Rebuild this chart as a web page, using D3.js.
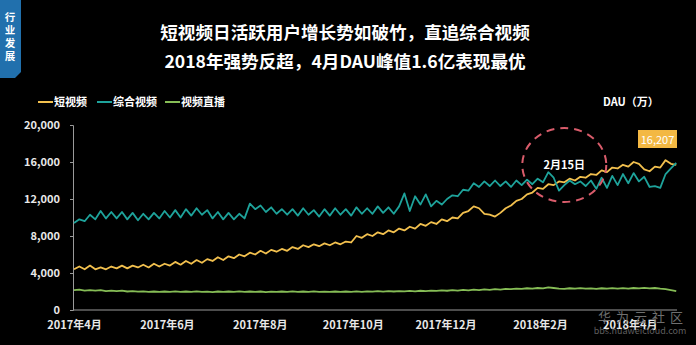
<!DOCTYPE html>
<html>
<head>
  <meta charset="utf-8"/>
  <title>DAU</title>
  <style>
    body { margin: 0; background: #000; }
    text { font-family: "Noto Sans CJK SC", "DejaVu Sans", sans-serif; font-weight: bold; }
  </style>
  <script src="https://d3js.org/d3.v7.min.js"></script>
</head>
<body>
<div id="chart"></div>
<script>
// half-week samples starting 2017-04-01 (weekday trough / weekend peak)
var startDate = new Date(2017, 3, 1)
var stepDays = 3.5

var shortVideo = [4400,4700,4400,4800,4400,4600,4400,4700,4500,4800,
  4500,4800,4600,4900,4600,5000,4700,5000,4800,5200,
  4900,5300,5000,5400,5100,5500,5300,5700,5400,5800,
  5600,6000,5800,6200,6000,6400,6100,6500,6300,6600,
  6400,6800,6600,7000,6800,7100,6900,7200,7000,7300,
  7100,7400,7300,8000,7800,8200,8000,8400,8200,8600,
  8400,8800,8600,9000,8800,9300,9100,9500,9300,9800,
  9600,10000,9900,10500,10700,11200,11000,10400,10300,10100,
  10500,11000,11300,11800,12000,12500,12700,13200,13100,13600,
  13500,13900,13800,14200,14000,14400,14300,14700,14600,15100,
  14900,15400,15300,15700,15500,16000,15800,15200,15000,15500,
  15400,16200,15800,15700]

var generalVideo = [9400,9800,9600,10300,9800,10700,9900,10600,9900,10600,
  9800,10500,9700,10400,9800,10500,9900,10700,10000,10800,
  10000,10900,10200,11000,10300,10800,9900,10600,9800,10500,
  9800,10400,9900,11500,10900,11300,10600,11100,10400,10900,
  10300,10900,10200,11000,10300,10800,10100,10900,10200,11000,
  10300,10900,10200,11100,10400,11000,10400,11200,10500,11100,
  10400,11200,12600,10700,12300,11400,12500,11200,11800,11400,
  12000,12400,12300,13000,12900,13700,13300,13900,13400,14000,
  13400,13900,13300,14000,13500,14100,13600,14200,13800,14900,
  14300,12900,13500,14000,13600,13900,13400,14000,13100,14300,
  13200,14500,13500,14700,13700,14800,13900,14400,13300,13400,
  13200,14700,15300,15900]

var liveVideo = [2150,2200,2100,2150,2100,2150,2050,2100,2050,2100,
  2000,2050,1980,2020,1960,2000,1950,2000,1960,2010,
  1950,2000,1960,2010,1950,1990,1940,2000,1950,2000,
  1950,2010,1960,2000,1950,2000,1940,1990,1950,2000,
  1960,2010,1950,2000,1960,2010,1950,1990,1960,2000,
  1950,2000,1960,2010,1970,2020,1980,2030,1990,2040,
  2000,2050,2010,2060,2020,2080,2040,2100,2060,2120,
  2080,2150,2100,2180,2120,2200,2150,2230,2180,2260,
  2200,2280,2250,2320,2280,2350,2300,2380,2330,2450,
  2380,2300,2280,2350,2300,2360,2300,2340,2290,2350,
  2300,2360,2310,2370,2320,2380,2330,2400,2340,2380,
  2300,2250,2150,2050]

var seriesNames = ["短视频", "综合视频", "视频直播"]
var seriesColors = ["#f2c04e", "#1ea39b", "#86bd56"]
var yTicks = [0, 4000, 8000, 12000, 16000, 20000]
var xTickDates = [new Date(2017,3,1), new Date(2017,5,1), new Date(2017,7,1), new Date(2017,9,1),
  new Date(2017,11,1), new Date(2018,1,1), new Date(2018,3,1)]
var peakLabel = "16,207"
var noteLabel = "2月15日"
var noteDate = new Date(2018, 1, 15)

var width = 696, height = 345

var svg = d3.select("#chart").append("svg")
  .attr("width", width).attr("height", height)
  .style("background", "#000")

var dayMs = 86400000
function dateAt(i) { return new Date(startDate.getTime() + i * stepDays * dayMs) }

var x = d3.scaleTime()
  .domain([startDate, new Date(startDate.getTime() + 396 * dayMs)])
  .range([74, 677])
var y = d3.scaleLinear().domain([0, 20000]).range([310, 125])

// corner tag
svg.append("path")
  .attr("d", "M0,0 L21,0 L21,72 L15,78 L0,78 Z")
  .attr("fill", "#2170ad")
var tag = "行业发展".split("")
svg.selectAll(".tag").data(tag).enter().append("text")
  .attr("x", 10).attr("y", function(d, i) { return 21 + i * 13 })
  .attr("text-anchor", "middle").attr("fill", "#fff")
  .style("font-size", "10.5px").text(function(d) { return d })

// title
svg.append("text").attr("x", 345).attr("y", 39).attr("text-anchor", "middle")
  .attr("fill", "#fff").style("font-size", "17.6px")
  .text("短视频日活跃用户增长势如破竹，直追综合视频")
svg.append("text").attr("x", 345).attr("y", 68).attr("text-anchor", "middle")
  .attr("fill", "#fff").style("font-size", "17.6px")
  .text("2018年强势反超，4月DAU峰值1.6亿表现最优")

// legend
var legendX = [38, 97, 165]
var lg = svg.selectAll(".lg").data(seriesNames).enter().append("g")
  .attr("transform", function(d, i) { return "translate(" + legendX[i] + ",102)" })
lg.append("line").attr("x1", 0).attr("x2", 15).attr("y1", 0).attr("y2", 0)
  .attr("stroke", function(d, i) { return seriesColors[i] }).attr("stroke-width", 2)
lg.append("text").attr("x", 16).attr("y", 4).attr("fill", "#fff")
  .style("font-size", "11px").text(function(d) { return d })

svg.append("text").attr("x", 603).attr("y", 106).attr("fill", "#fff")
  .style("font-size", "11px").text("DAU（万）")

// y axis
var yAxis = svg.append("g").attr("transform", "translate(73,0)")
  .call(d3.axisLeft(y).tickValues(yTicks).tickFormat(d3.format(",")).tickSize(3).tickPadding(10))
yAxis.select(".domain").attr("stroke", "#9a9a9a")
yAxis.selectAll(".tick line").attr("stroke", "#9a9a9a")
yAxis.selectAll("text").attr("fill", "#e8e8e8").style("font-size", "11px")

// x axis
var xAxis = svg.append("g").attr("transform", "translate(0,310)")
  .call(d3.axisBottom(x).tickValues(xTickDates).tickSize(0).tickPadding(11)
    .tickFormat(function(d) { return d.getFullYear() + "年" + (d.getMonth() + 1) + "月" }))
xAxis.select(".domain").attr("stroke", "#9a9a9a").attr("d", "M73,0H677")
xAxis.selectAll("text").attr("fill", "#e8e8e8").style("font-size", "11px")

// lines
var line = d3.line()
  .x(function(d, i) { return x(dateAt(i)) })
  .y(function(d) { return y(d) })
var allSeries = [liveVideo, shortVideo, generalVideo]
var allColors = [seriesColors[2], seriesColors[0], seriesColors[1]]
svg.selectAll(".series").data(allSeries).enter().append("path")
  .attr("d", line).attr("fill", "none")
  .attr("stroke", function(d, i) { return allColors[i] })
  .attr("stroke-width", 1.8).attr("stroke-linejoin", "round")

// annotation circle
var cx = x(noteDate) + 3
svg.append("ellipse").attr("cx", cx).attr("cy", 165).attr("rx", 42).attr("ry", 37)
  .attr("fill", "none").attr("stroke", "#d95c6b").attr("stroke-width", 2)
  .attr("stroke-dasharray", "8,6")
svg.append("text").attr("x", cx).attr("y", 169).attr("text-anchor", "middle")
  .attr("fill", "#fff").style("font-size", "11px").text(noteLabel)

// peak label
svg.append("rect").attr("x", 638).attr("y", 130).attr("width", 39).attr("height", 18)
  .attr("fill", "#f3b843")
svg.append("text").attr("x", 657.5).attr("y", 143.5).attr("text-anchor", "middle")
  .attr("fill", "#fff").style("font-size", "11px").style("font-weight", "normal").text(peakLabel)

// watermark (sits over the last tick label, as in the source)
svg.append("text").attr("x", 643).attr("y", 322).attr("text-anchor", "middle")
  .attr("fill", "#6f6f6f").style("font-size", "13px").style("font-weight", "normal")
  .style("letter-spacing", "5px").text("华为云社区")
svg.append("text").attr("x", 640).attr("y", 334).attr("text-anchor", "middle")
  .attr("fill", "#5f5f5f").style("font-size", "9px").style("font-weight", "normal")
  .text("bbs.huaweicloud.com")
</script>
</body>
</html>
